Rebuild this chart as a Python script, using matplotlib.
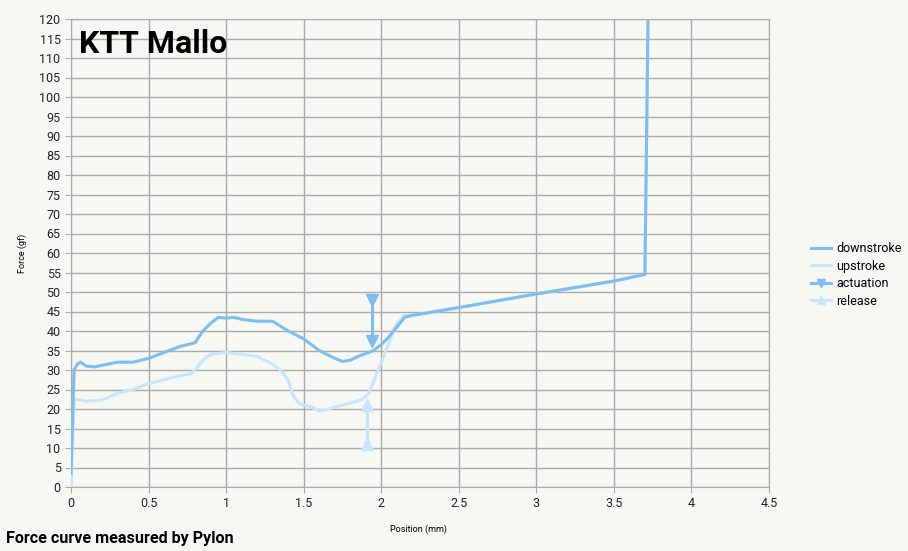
import matplotlib.pyplot as plt

plt.rcParams['font.family'] = ['Roboto', 'DejaVu Sans']

# downstroke
down_x = [0, 0.02, 0.04, 0.06, 0.1, 0.15, 0.2, 0.3, 0.4, 0.5, 0.6, 0.7, 0.8, 0.85, 0.9, 0.95,
          1.0, 1.05, 1.1, 1.2, 1.3, 1.4, 1.5, 1.55, 1.6, 1.65, 1.7, 1.75, 1.8, 1.85, 1.9,
          1.95, 2.0, 2.05, 2.1, 2.15, 2.2, 2.5, 3.0, 3.5, 3.7, 3.72]
down_y = [3.5, 30, 31.5, 32, 31, 30.8, 31.2, 32, 32, 33, 34.5, 36, 37, 40, 42, 43.5,
          43.3, 43.5, 43, 42.5, 42.5, 40, 38, 36.5, 35, 34, 33, 32.2, 32.5, 33.5, 34.2,
          35, 36.5, 38.5, 41, 43.5, 44, 46, 49.5, 52.8, 54.5, 120]

# upstroke
up_x = [0, 0.02, 0.03, 0.1, 0.2, 0.3, 0.4, 0.5, 0.6, 0.7, 0.77, 0.8, 0.85, 0.9, 1.0, 1.1,
        1.2, 1.3, 1.35, 1.4, 1.43, 1.47, 1.5, 1.55, 1.6, 1.65, 1.7, 1.8, 1.88, 1.92, 1.95,
        2.0, 2.05, 2.1, 2.15, 2.2, 2.5, 3.0, 3.5, 3.7, 3.72]
up_y = [0, 22, 22.5, 22, 22.3, 24, 25, 26.5, 27.5, 28.5, 29, 30, 32.5, 34, 34.5, 34,
        33.5, 31.5, 30, 27.5, 23.5, 21.5, 21, 20.5, 19.5, 19.8, 20.5, 21.5, 22.5, 24, 27,
        32, 37, 42, 44, 44, 46, 49.5, 52.8, 54.5, 120]

act_x = [1.94, 1.94]
act_y = [48, 37.5]
rel_x = [1.91, 1.91]
rel_y = [21, 11]

dark = '#7dbdf0'
light = '#c9e5fb'
bg = '#f7f7f3'

fig = plt.figure(figsize=(9.08, 5.51), dpi=100, facecolor=bg)
ax = fig.add_axes([71/908, 1-487/551, 698/908, 468/551], facecolor=bg)

ax.plot(up_x, up_y, color=light, lw=2.2, label='upstroke', zorder=3)
ax.plot(down_x, down_y, color=dark, lw=2.2, label='downstroke', zorder=4)
ax.plot(act_x, act_y, color=dark, lw=2.2, marker='v', ms=9, label='actuation', zorder=5)
ax.plot(rel_x, rel_y, color=light, lw=2.2, marker='^', ms=9, label='release', zorder=5)

ax.set_xlim(0, 4.5)
ax.set_ylim(0, 120)
ax.set_xticks([0, 0.5, 1, 1.5, 2, 2.5, 3, 3.5, 4, 4.5])
ax.set_xticklabels(['0', '0.5', '1', '1.5', '2', '2.5', '3', '3.5', '4', '4.5'])
ax.set_yticks(range(0, 121, 5))
ax.grid(True, color='#aaaaaa', lw=1)
ax.set_axisbelow(True)
for s in ax.spines.values():
    s.set_color('#aaaaaa')
ax.tick_params(colors='#aaaaaa', labelcolor='#222222', labelsize=9, length=4)

ax.text(0.012, 0.978, 'KTT Mallo', transform=ax.transAxes, fontsize=23,
        fontweight='bold', va='top', ha='left')

fig.text(22/908, 1-253/551, 'Force (gf)', rotation=90, fontsize=6.5, ha='center', va='center')
fig.text(418/908, 1-529/551, 'Position (mm)', fontsize=6.5, ha='center', va='center')
fig.text(6/908, 1-538/551, 'Force curve measured by Pylon', fontsize=11.6,
         fontweight='bold', ha='left', va='center')

handles, labels = ax.get_legend_handles_labels()
order = [1, 0, 2, 3]
fig.legend([handles[i] for i in order], [labels[i] for i in order],
           loc='center left', bbox_to_anchor=(800/908, 1-275/551), frameon=False,
           fontsize=9, handlelength=1.6, handletextpad=0.4, labelspacing=0.35,
           markerscale=0.7)

fig.savefig('out.png', dpi=100, facecolor=bg)
